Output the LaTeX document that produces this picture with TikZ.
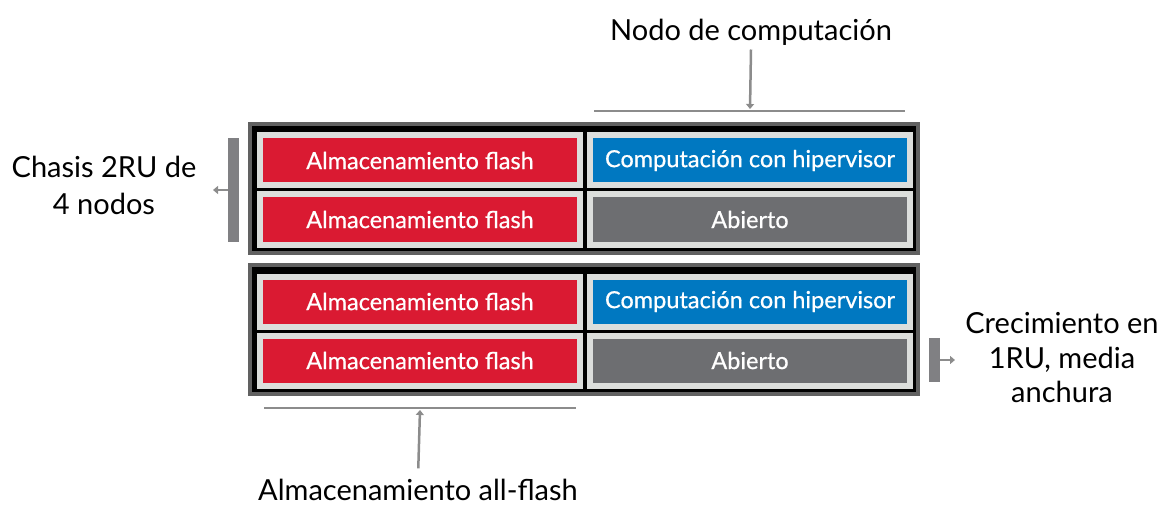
\documentclass[tikz,border=0pt]{standalone}
\usepackage{fontspec}
\setmainfont{Lato}
\newfontface\medio{Lato}[FakeBold=0.6]
\usetikzlibrary{arrows.meta,positioning}
\definecolor{flashred}{HTML}{DA1A32}
\definecolor{compblue}{HTML}{0078C1}
\definecolor{opengray}{HTML}{6D6E71}
\definecolor{cellgray}{HTML}{DCDEDC}
\definecolor{chassisgray}{HTML}{616161}
\definecolor{bracketgray}{HTML}{808083}
\definecolor{linegray}{HTML}{8C8C8C}
\begin{document}
\begin{tikzpicture}[x=1pt,y=-1pt,
    chasis/.style={draw=chassisgray,line width=4pt,fill=black},
    modulo/.style={draw=cellgray,line width=6pt,minimum width=320pt,minimum height=50pt,
      inner sep=0pt,text=white,font=\medio\fontsize{23.5}{26}\selectfont},
    flash/.style={modulo,fill=flashred},
    comp/.style={modulo,fill=compblue},
    libre/.style={modulo,fill=opengray},
    rotulo/.style={font=\fontsize{29}{37}\selectfont,align=center},
    barra/.style={fill=bracketgray,inner sep=0pt,minimum width=11pt},
    guia/.style={draw=linegray,line width=2.5pt},
    flecha/.style={draw=linegray,line width=2.5pt,-{Triangle[width=8pt,length=5pt]}}]
    \useasboundingbox (0,0) rectangle (1164,505);
    % two chassis, four nodes each
    \foreach \c/\dy in {a/0,b/141} {
      \draw[chasis] (250,124+\dy) rectangle (918,253+\dy);
      \node[flash] (flash-\c-1) at (420,160.5+\dy) {Almacenamiento flash};
      \node[flash] (flash-\c-2) at (420,219.5+\dy) {Almacenamiento flash};
      \node[comp]  (comp-\c)    at (750,160.5+\dy) {Computación con hipervisor};
      \node[libre] (libre-\c)   at (750,219.5+\dy) {Abierto};
    }
    % compute node label
    \node[rotulo,anchor=base] (nodo) at (751,41) {Nodo de computación};
    \coordinate (guia-sup-a) at (594,111);
    \coordinate (guia-sup-b) at (905,111);
    \coordinate (guia-sup-m) at (750,109);
    \draw[guia] (guia-sup-a) -- (guia-sup-b);
    \draw[flecha] (nodo.south) -- (guia-sup-m);
    % all-flash label
    \node[rotulo,anchor=base,inner sep=1pt] (allflash) at (418,500) {Almacenamiento all-flash};
    \coordinate (guia-inf-a) at (264,408);
    \coordinate (guia-inf-b) at (576,408);
    \coordinate (guia-inf-m) at (420,410);
    \draw[guia] (guia-inf-a) -- (guia-inf-b);
    \draw[flecha,shorten <=9pt] (allflash.north) -- (guia-inf-m);
    % left bracket
    \node[barra,minimum height=104pt] (barra-izq) at (233.5,190) {};
    \coordinate (punta-izq) at (213,190);
    \draw[flecha,line width=2pt] (barra-izq.west) -- (punta-izq);
    \node[rotulo] (chasis) at (104,185.5) {Chasis 2RU de\\4 nodos};
    % right bracket
    \node[barra,minimum height=44pt] (barra-der) at (934.5,360) {};
    \coordinate (punta-der) at (955,360);
    \draw[flecha,line width=2pt] (barra-der.east) -- (punta-der);
    \node[rotulo,font=\fontsize{29}{34.5}\selectfont] (crece) at (1062,358) {Crecimiento en\\1RU, media\\anchura};
\end{tikzpicture}
\end{document}
